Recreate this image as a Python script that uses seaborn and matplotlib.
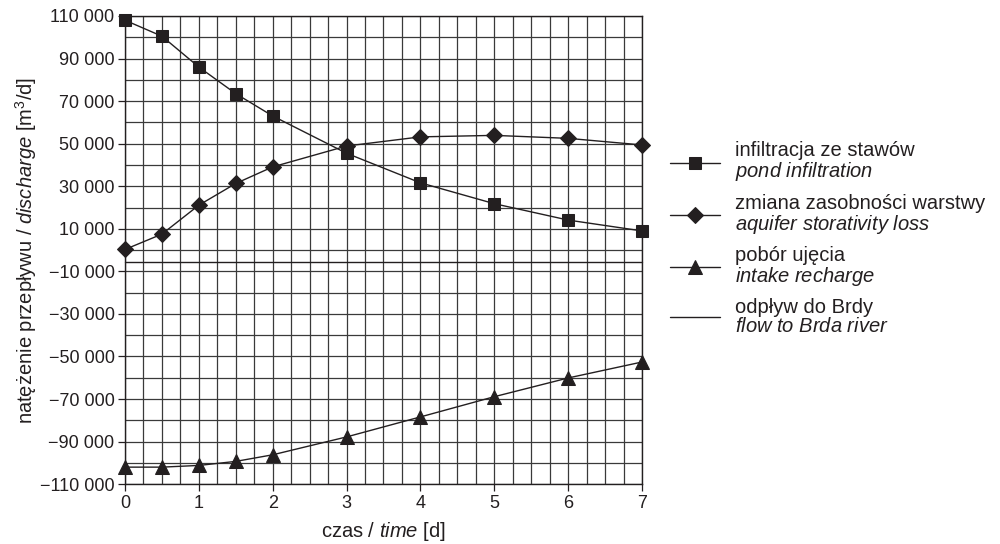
import numpy as np
import pandas as pd
import seaborn as sns
import matplotlib
matplotlib.use('Agg')
import matplotlib.pyplot as plt
from matplotlib.ticker import FuncFormatter, MultipleLocator

# czas [d]
days = [0, 0.5, 1, 1.5, 2, 3, 4, 5, 6, 7]
# infiltracja ze stawów
infiltration = [108000, 100500, 86000, 73500, 63000, 45500, 31600, 21800, 14100, 9000]
# zmiana zasobności warstwy
storativity = [300, 7500, 21100, 31300, 39100, 48900, 53200, 53900, 52500, 49400]
# pobór ujęcia
intake = [-102000, -102000, -101200, -99300, -96200, -87800, -78400, -68900, -60100, -52600]
# odpływ do Brdy
outflow = [-5600] * len(days)

labels = [
    'infiltracja ze stawów\n$\\mathit{pond\\ infiltration}$',
    'zmiana zasobności warstwy\n$\\mathit{aquifer\\ storativity\\ loss}$',
    'pobór ujęcia\n$\\mathit{intake\\ recharge}$',
    'odpływ do Brdy\n$\\mathit{flow\\ to\\ Brda\\ river}$',
]
markers = ['s', 'D', '^', None]
msizes = [8, 8, 10, 0]

sns.set_style('ticks')
plt.rcParams['font.family'] = ['Liberation Sans', 'DejaVu Sans']
plt.rcParams['mathtext.fontset'] = 'custom'
plt.rcParams['mathtext.rm'] = 'Liberation Sans'
plt.rcParams['mathtext.it'] = 'Liberation Sans:italic'
plt.rcParams['mathtext.default'] = 'regular'

ink = '#231f20'

fig = plt.figure(figsize=(10, 5.44), dpi=100)
ax = fig.add_axes([0.125, 0.110, 0.517, 0.8606])

series = [infiltration, storativity, intake, outflow]
for vals, lab, mk, ms in zip(series, labels, markers, msizes):
    sns.lineplot(x=days, y=vals, ax=ax, color=ink, linewidth=1.0,
                 marker=mk, markersize=ms, markeredgecolor=ink,
                 label=lab, zorder=3, clip_on=False)

ax.set_xlim(0, 7)
ax.set_ylim(-110000, 110000)
ax.xaxis.set_major_locator(MultipleLocator(1))
ax.xaxis.set_minor_locator(MultipleLocator(0.25))
ax.yaxis.set_major_locator(MultipleLocator(20000, offset=10000))
ax.yaxis.set_minor_locator(MultipleLocator(10000))


def fmt(v, pos):
    s = f'{abs(v):,.0f}'.replace(',', ' ')
    return ('\u2212' + s) if v < 0 else s


ax.yaxis.set_major_formatter(FuncFormatter(fmt))
ax.grid(which='both', color='#3a3a3a', linewidth=0.9)
ax.tick_params(which='major', direction='out', length=5, width=0.9,
               color=ink, labelsize=13, labelcolor=ink, pad=2.5)
ax.tick_params(which='minor', length=0)
for sp in ax.spines.values():
    sp.set_color(ink)
    sp.set_linewidth(1.0)

ax.set_xlabel('czas / $\\mathit{time}$ [d]', fontsize=14.5, color=ink, labelpad=6)
ax.set_ylabel('natężenie przepływu / $\\mathit{discharge}$ [m$^3$/d]',
              fontsize=14.5, color=ink, labelpad=1)

leg = ax.legend(loc='upper left', bbox_to_anchor=(0.670, 0.740),
                bbox_transform=fig.transFigure, frameon=False, fontsize=14.5,
                handlelength=2.5, handletextpad=0.75, labelspacing=0.5,
                borderpad=0, borderaxespad=0, labelcolor=ink)
for t in leg.get_texts():
    t.set_linespacing(1.0)

plt.savefig('out.png', dpi=100)
